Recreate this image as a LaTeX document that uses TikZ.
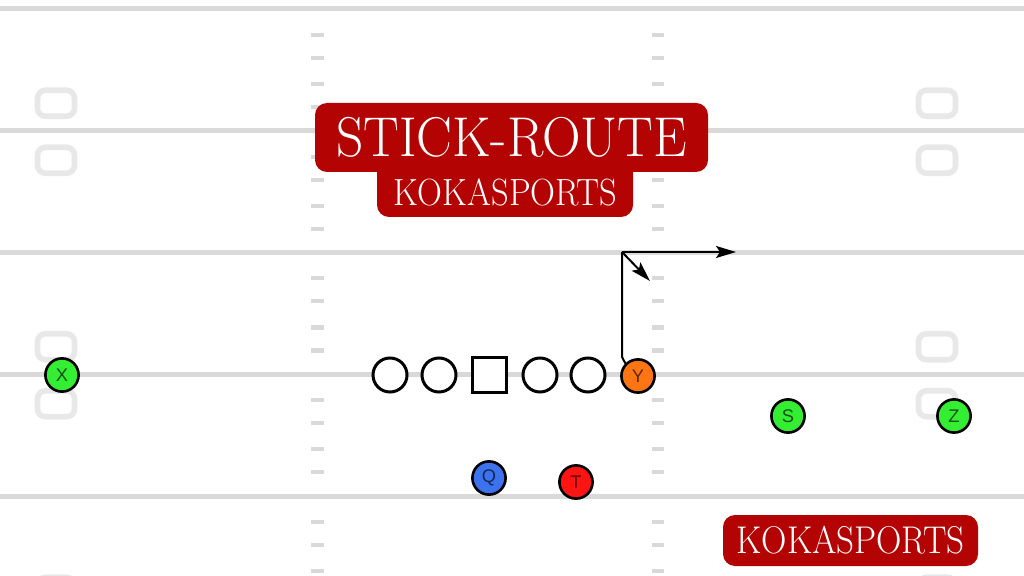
\documentclass[tikz,border=0pt]{standalone}
\usepackage{fontspec}
\usepackage{tikz}
\usetikzlibrary{arrows.meta}
\newfontfamily\lblfont{Liberation Sans}
\definecolor{fieldgray}{HTML}{D9D9D9}
\definecolor{numgray}{HTML}{E8E8E8}
\definecolor{wrgreen}{HTML}{33EE33}
\definecolor{yorange}{HTML}{FF7514}
\definecolor{qblue}{HTML}{3D72EE}
\definecolor{tred}{HTML}{FF1414}
\definecolor{bannerred}{HTML}{B30303}

\begin{document}
\begin{tikzpicture}[x=0.025cm,y=-0.025cm,
	yardline/.style={draw=fieldgray,line width=0.125cm},
	hashmark/.style={draw=fieldgray,line width=0.1cm},
	yardnum/.style={draw=numgray,line width=0.14cm,rounded corners=0.2cm},
	player/.style={shape=circle,draw=black,line width=0.065cm,minimum size=0.83cm,inner sep=0pt,
		font=\lblfont\fontsize{13}{13}\selectfont,text opacity=0.65},
	lineman/.style={shape=circle,draw=black,line width=0.075cm,minimum size=0.85cm,inner sep=0pt,fill=white},
	snapbox/.style={shape=rectangle,draw=black,line width=0.075cm,minimum size=0.85cm,inner sep=0pt,fill=white},
	banner/.style={fill=bannerred,rounded corners=0.3cm},
	bannertext/.style={text=white,inner sep=0pt},
	route/.style={draw=black,line width=0.05cm}]

		\useasboundingbox (0,0) rectangle (1024,576);
		\clip (0,0) rectangle (1024,576);
		\fill[white] (0,0) rectangle (1024,576);

		\foreach \y in {9,130.75,252.5,374.25,496}
			\foreach \d in {26,49,75,98}
			{
				\draw[hashmark] (311,\y+\d) -- (324,\y+\d);
				\draw[hashmark] (652,\y+\d) -- (664,\y+\d);
			}
		\foreach \y in {130.75,374.25,617.75}
			\foreach \x in {37.5,918.5}
			{
				\draw[yardnum] (\x,\y-40.5) rectangle ++(37,26);
				\draw[yardnum] (\x,\y+16.5) rectangle ++(37,26);
			}
		\foreach \y in {9,130.75,252.5,374.25,496}
			\draw[yardline] (0,\y) -- (1024,\y);

		\node[lineman] (LT) at (390,375) {};
		\node[lineman] (LG) at (439,375) {};
		\node[snapbox] (C)  at (489.5,375) {};
		\node[lineman] (RG) at (540,375) {};
		\node[lineman] (RT) at (588,375) {};

		\node[player,fill=wrgreen] (X) at (62,375)  {X};
		\node[player,fill=yorange] (Y) at (638,376) {Y};
		\node[player,fill=wrgreen] (S) at (788,416) {S};
		\node[player,fill=wrgreen] (Z) at (954,416) {Z};
		\node[player,fill=qblue]   (Q) at (489,478) {Q};
		\node[player,fill=tred]    (T) at (576,482) {T};

		\coordinate (stem)  at (622,357);
		\coordinate (brk)   at (622,252);
		\coordinate (stick) at (736,252);
		\coordinate (sit)   at (650,281);
		\draw[route] (Y.135) -- (stem) -- (brk);
		\draw[route,-{Stealth[length=0.5cm,width=0.3cm,inset=0.1cm]}] (brk) -- (stick);
		\draw[route,-{Stealth[length=0.5cm,width=0.3cm,inset=0.1cm]}] (brk) -- (sit);

		\fill[banner] (377,150) rectangle (633,217);
		\fill[banner] (315,103) rectangle (708,172);
		\fill[banner] (723,515) rectangle (978,566);
		\node[bannertext,font=\fontsize{38}{38}\selectfont] (title) at (511.5,137.5) {\scalebox{1}[1.05]{STICK-ROUTE}};
		\node[bannertext,font=\fontsize{24.5}{24.5}\selectfont] (brand) at (505,192.5) {\scalebox{1}[1.1]{KOKASPORTS}};
		\node[bannertext,font=\fontsize{25}{25}\selectfont] (mark) at (850.5,540.5) {\scalebox{1}[1.1]{KOKASPORTS}};
\end{tikzpicture}
\end{document}
